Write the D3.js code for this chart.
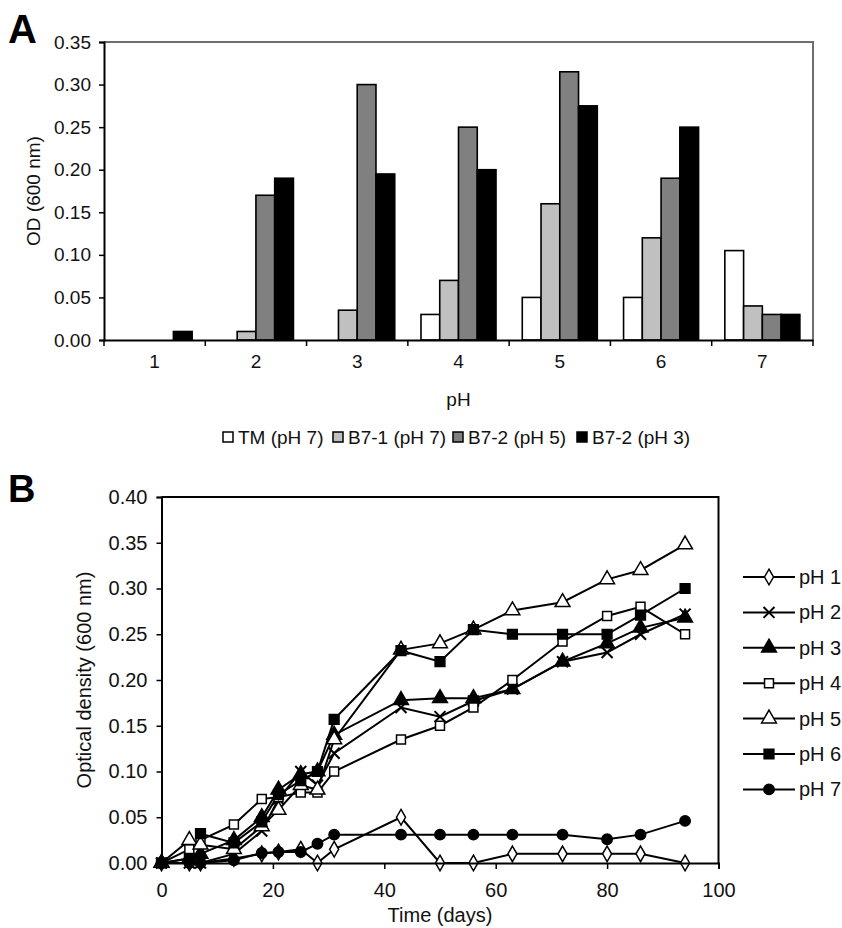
<!DOCTYPE html>
<html>
<head>
<meta charset="utf-8">
<script src="https://cdn.jsdelivr.net/npm/d3@7"></script>
<style>
  body { margin: 0; background: #fff; }
  svg { display: block; font-family: "Liberation Sans", Arial, sans-serif; }
</style>
</head>
<body>
<svg id="chart"></svg>
<script>
// ---- panel A data (OD600 by pH) ----
var phCats = ['1', '2', '3', '4', '5', '6', '7'];
var strainNames = ['TM (pH 7)', 'B7-1 (pH 7)', 'B7-2 (pH 5)', 'B7-2 (pH 3)'];
var strainFills = ['#ffffff', '#c0c0c0', '#808080', '#000000'];
var tmPH7  = [0, 0, 0, 0.03, 0.05, 0.05, 0.105];
var b71PH7 = [0, 0.01, 0.035, 0.07, 0.16, 0.12, 0.04];
var b72PH5 = [0, 0.17, 0.30, 0.25, 0.315, 0.19, 0.03];
var b72PH3 = [0.01, 0.19, 0.195, 0.20, 0.275, 0.25, 0.03];
var odTicksA = [0, 0.05, 0.10, 0.15, 0.20, 0.25, 0.30, 0.35];

// ---- panel B data (growth curves) ----
var days = [0, 5, 7, 13, 18, 21, 25, 28, 31, 43, 50, 56, 63, 72, 80, 86, 94];
var pH1 = [0, 0, 0, 0.005, 0.01, 0.012, 0.015, 0, 0.015, 0.05, 0, 0, 0.01, 0.01, 0.01, 0.01, 0];
var pH2 = [0, 0, 0, 0.01, 0.035, 0.07, 0.10, 0.085, 0.12, 0.17, 0.16, 0.177, 0.19, 0.22, 0.23, 0.25, 0.272];
var pH3 = [0, 0.005, 0.01, 0.025, 0.05, 0.08, 0.097, 0.10, 0.14, 0.178, 0.18, 0.18, 0.19, 0.22, 0.24, 0.257, 0.268];
var pH4 = [0, 0.015, 0.025, 0.042, 0.07, 0.072, 0.077, 0.077, 0.10, 0.135, 0.15, 0.17, 0.20, 0.242, 0.27, 0.28, 0.25];
var pH5 = [0, 0.025, 0.02, 0.015, 0.04, 0.058, 0.085, 0.08, 0.135, 0.233, 0.24, 0.255, 0.276, 0.285, 0.31, 0.32, 0.348];
var pH6 = [0, 0.005, 0.032, 0.022, 0.045, 0.075, 0.09, 0.10, 0.157, 0.232, 0.22, 0.255, 0.25, 0.25, 0.25, 0.271, 0.30];
var pH7 = [0, 0, 0, 0.003, 0.011, 0.012, 0.012, 0.021, 0.031, 0.031, 0.031, 0.031, 0.031, 0.031, 0.026, 0.031, 0.046];
var seriesNames = ['pH 1', 'pH 2', 'pH 3', 'pH 4', 'pH 5', 'pH 6', 'pH 7'];
var odTicksB = [0, 0.05, 0.10, 0.15, 0.20, 0.25, 0.30, 0.35, 0.40];
var dayTicks = [0, 20, 40, 60, 80, 100];

document.addEventListener('DOMContentLoaded', function () {
    var svg = d3.select('#chart').attr('width', 842).attr('height', 928);
    svg.append('rect').attr('width', 842).attr('height', 928).attr('fill', '#fff');
    drawPanelA(svg);
    drawPanelB(svg);
});

function drawPanelA(svg) {
    var left = 104, right = 813, top = 42, bottom = 340;
    var values = [tmPH7, b71PH7, b72PH5, b72PH3];

    var x = d3.scaleBand().domain(phCats).range([left, right]);
    var xs = d3.scaleBand().domain(strainNames).range([0, x.bandwidth()]).paddingOuter(0.7);
    var y = d3.scaleLinear().domain([0, 0.35]).range([bottom, top]);

    svg.append('text').attr('x', 8).attr('y', 43)
        .attr('font-size', 40).attr('font-weight', 'bold').text('A');

    // frame (top and right in gray)
    svg.append('path')
        .attr('d', 'M' + left + ',' + top + 'H' + right + 'V' + bottom)
        .attr('fill', 'none').attr('stroke', '#6e6e6e').attr('stroke-width', 2);

    var g = svg.append('g');
    strainNames.forEach(function (name, si) {
        g.selectAll(null)
            .data(values[si].map(function (v, i) { return { cat: phCats[i], v: v }; })
                .filter(function (d) { return d.v > 0; }))
            .enter().append('rect')
            .attr('x', function (d) { return x(d.cat) + xs(name); })
            .attr('y', function (d) { return y(d.v); })
            .attr('width', xs.bandwidth())
            .attr('height', function (d) { return y(0) - y(d.v); })
            .attr('fill', strainFills[si])
            .attr('stroke', '#000').attr('stroke-width', 1.6);
    });

    var yAxis = svg.append('g')
        .attr('transform', 'translate(' + left + ',0)')
        .call(d3.axisLeft(y).tickValues(odTicksA).tickFormat(d3.format('.2f')).tickSize(5).tickPadding(8));
    yAxis.selectAll('text').attr('font-size', 19).attr('fill', '#111');

    var xAxis = svg.append('g')
        .attr('transform', 'translate(0,' + bottom + ')')
        .call(d3.axisBottom(x).tickSize(0).tickPadding(15));
    xAxis.selectAll('text').attr('font-size', 19).attr('fill', '#111');

    // category boundary ticks
    xAxis.selectAll('.bnd')
        .data(phCats.concat(['end']))
        .enter().append('line')
        .attr('x1', function (d, i) { return left + i * x.step(); })
        .attr('x2', function (d, i) { return left + i * x.step(); })
        .attr('y1', 0).attr('y2', 6)
        .attr('stroke', '#000').attr('stroke-width', 1.5);

    [yAxis, xAxis].forEach(function (a) {
        a.select('.domain').attr('stroke', '#000').attr('stroke-width', 2);
        a.selectAll('.tick line').attr('stroke-width', 1.5);
    });

    svg.append('text').attr('x', (left + right) / 2).attr('y', 406)
        .attr('text-anchor', 'middle').attr('font-size', 19).attr('fill', '#111').text('pH');

    svg.append('text')
        .attr('transform', 'translate(40,' + ((top + bottom) / 2) + ') rotate(-90)')
        .attr('text-anchor', 'middle').attr('font-size', 19).attr('fill', '#111').text('OD (600 nm)');

    // legend
    var legX = [223, 333, 453, 577];
    var leg = svg.append('g');
    strainNames.forEach(function (name, i) {
        leg.append('rect').attr('x', legX[i]).attr('y', 432).attr('width', 10).attr('height', 10)
            .attr('fill', strainFills[i]).attr('stroke', '#000').attr('stroke-width', 1.5);
        leg.append('text').attr('x', legX[i] + 15).attr('y', 444)
            .attr('font-size', 19).attr('fill', '#111').text(name);
    });
}

function drawPanelB(svg) {
    var left = 161.5, right = 718.5, top = 497, bottom = 863;
    var series = [pH1, pH2, pH3, pH4, pH5, pH6, pH7];
    var symbols = [d3.symbolDiamond, d3.symbolTimes, d3.symbolTriangle, d3.symbolSquare,
                   d3.symbolTriangle, d3.symbolSquare, d3.symbolCircle];
    var sizes = [70, 80, 95, 80, 95, 95, 85];
    var filled = [false, false, true, false, false, true, true];

    var x = d3.scaleLinear().domain([0, 100]).range([left, right]);
    var y = d3.scaleLinear().domain([0, 0.40]).range([bottom, top]);

    svg.append('text').attr('x', 8).attr('y', 502)
        .attr('font-size', 38).attr('font-weight', 'bold').text('B');

    svg.append('path')
        .attr('d', 'M' + left + ',' + top + 'H' + right + 'V' + bottom)
        .attr('fill', 'none').attr('stroke', '#000').attr('stroke-width', 2);

    var line = d3.line()
        .x(function (d) { return x(d.day); })
        .y(function (d) { return y(d.v); });

    var g = svg.append('g');
    series.forEach(function (vals, si) {
        var pts = vals.map(function (v, i) { return { day: days[i], v: v }; });
        g.append('path').datum(pts)
            .attr('fill', 'none').attr('stroke', '#000').attr('stroke-width', 2)
            .attr('d', line);
    });
    series.forEach(function (vals, si) {
        var pts = vals.map(function (v, i) { return { day: days[i], v: v }; });
        g.selectAll(null).data(pts).enter().append('path')
            .attr('transform', function (d) { return 'translate(' + x(d.day) + ',' + y(d.v) + ')'; })
            .attr('d', d3.symbol(symbols[si], sizes[si]))
            .attr('fill', si === 1 ? 'none' : (filled[si] ? '#000' : '#fff'))
            .attr('stroke', '#000').attr('stroke-width', si === 1 ? 2 : 1.5);
    });

    var yAxis = svg.append('g')
        .attr('transform', 'translate(' + left + ',0)')
        .call(d3.axisLeft(y).tickValues(odTicksB).tickFormat(d3.format('.2f')).tickSize(5).tickPadding(9));
    var xAxis = svg.append('g')
        .attr('transform', 'translate(0,' + bottom + ')')
        .call(d3.axisBottom(x).tickValues(dayTicks).tickFormat(d3.format('d')).tickSize(6).tickPadding(14));
    [yAxis, xAxis].forEach(function (a) {
        a.select('.domain').attr('stroke', '#000').attr('stroke-width', 2);
        a.selectAll('.tick line').attr('stroke-width', 1.5);
        a.selectAll('text').attr('font-size', 20).attr('fill', '#111');
    });

    svg.append('text').attr('x', (left + right) / 2).attr('y', 922)
        .attr('text-anchor', 'middle').attr('font-size', 20).attr('fill', '#111').text('Time (days)');

    svg.append('text')
        .attr('transform', 'translate(91,' + ((top + bottom) / 2) + ') rotate(-90)')
        .attr('text-anchor', 'middle').attr('font-size', 20).attr('fill', '#111')
        .text('Optical density (600 nm)');

    // legend
    var leg = svg.append('g');
    seriesNames.forEach(function (name, i) {
        var ly = 577 + i * 35.4;
        leg.append('line').attr('x1', 743).attr('x2', 795).attr('y1', ly).attr('y2', ly)
            .attr('stroke', '#000').attr('stroke-width', 2);
        leg.append('path')
            .attr('transform', 'translate(769,' + ly + ')')
            .attr('d', d3.symbol(symbols[i], sizes[i]))
            .attr('fill', i === 1 ? 'none' : (filled[i] ? '#000' : '#fff'))
            .attr('stroke', '#000').attr('stroke-width', i === 1 ? 2 : 1.5);
        leg.append('text').attr('x', 799).attr('y', ly + 7)
            .attr('font-size', 20).attr('fill', '#111').text(name);
    });
}
</script>
</body>
</html>
